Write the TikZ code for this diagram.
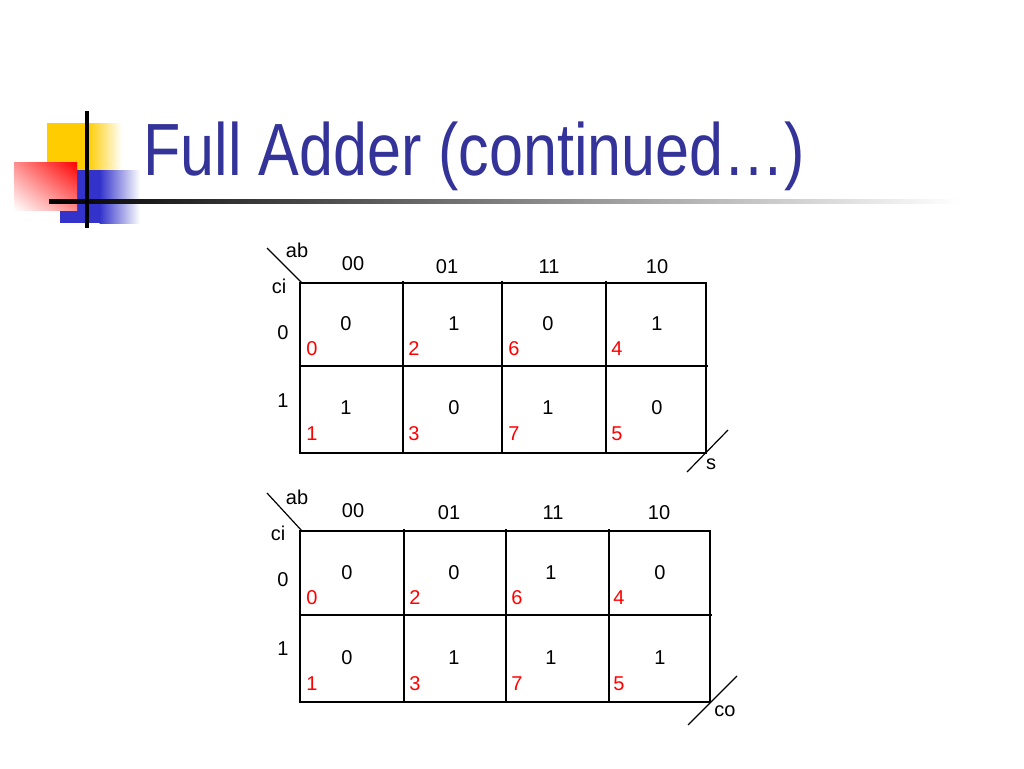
\documentclass[tikz,border=0pt]{standalone}
\usepackage{fontspec}
\setmainfont{Liberation Sans}
\newfontfamily\titlefont[FakeStretch=0.825]{Liberation Sans}
\definecolor{titleblue}{RGB}{51,51,153}
\definecolor{baryellow}{RGB}{255,204,0}
\definecolor{barblue}{RGB}{51,51,204}
\usetikzlibrary{shadings}

\begin{document}
\begin{tikzpicture}[x=1pt,y=-1pt,
    cell/.style={font=\fontsize{20}{24}\selectfont,inner sep=0pt},
    idx/.style={cell,text=red},
    grid line/.style={line width=1.2pt}]
  \useasboundingbox (0,0) rectangle (1024,768);

  % title decoration
  \fill[baryellow] (47,123) rectangle (88,170);
  \shade[left color=baryellow,right color=white] (87.5,123) rectangle (122,170);
  \fill[barblue] (60,170) rectangle (100,223);
  \shade[left color=barblue,right color=white] (99.5,170) rectangle (140,223);
  \shade[upper right=red,lower left=white,upper left=red!45,lower right=red!45] (14,162) rectangle (77,210);
  \shade[left color=black,right color=white] (49,199) rectangle (960,203.5);
  \fill[black] (85,111) rectangle (89,228);
  \node[font=\titlefont\fontsize{74}{80}\selectfont,text=titleblue,anchor=base west,inner sep=0pt]
    (title) at (143,175) {Full Adder (continued…)};

  % k-map for s
  \draw[grid line] (300,283) rectangle (706,453);
  \draw[grid line] (300,366) -- (708,366);
  \foreach \x in {403,502,606}
    \draw[grid line] (\x,281) -- (\x,453);
  \draw[grid line] (267,248) -- (302,283);
  \draw[grid line] (687,472) -- (728,430);
  \node[cell] (s-ab) at (297,250) {ab};
  \node[cell] (s-ci) at (279,286) {ci};
  \node[cell] (s-r0) at (283,333) {0};
  \node[cell] (s-r1) at (283,401) {1};
  \foreach \x/\y/\t [count=\i] in {353/264/00,447/267/01,549/267/11,657/267/10}
    \node[cell] (s-c\i) at (\x,\y) {\t};
  \foreach \vx/\ix/\v/\n in {346/312/0/0,454/414/1/2,548/514/0/6,657/617/1/4} {
    \node[cell] (s-v\n) at (\vx,324) {\v};
    \node[idx] (s-m\n) at (\ix,349) {\n};
  }
  \foreach \vx/\ix/\v/\n in {346/312/1/1,454/414/0/3,548/514/1/7,657/617/0/5} {
    \node[cell] (s-v\n) at (\vx,408) {\v};
    \node[idx] (s-m\n) at (\ix,434) {\n};
  }
  \node[cell] (s-out) at (711,464) {s};

  % k-map for co
  \draw[grid line] (300,531) rectangle (710,702);
  \draw[grid line] (300,615) -- (712,615);
  \foreach \x in {404,506,609}
    \draw[grid line] (\x,529) -- (\x,702);
  \draw[grid line] (267,493) -- (302,531);
  \draw[grid line] (688,725) -- (737,676);
  \node[cell] (co-ab) at (297,497) {ab};
  \node[cell] (co-ci) at (278,533) {ci};
  \node[cell] (co-r0) at (283,580) {0};
  \node[cell] (co-r1) at (283,649) {1};
  \foreach \x/\y/\t [count=\i] in {353/511/00,449/513/01,553/513/11,659/513/10}
    \node[cell] (co-c\i) at (\x,\y) {\t};
  \foreach \vx/\ix/\v/\n in {347/312/0/0,454/415/0/2,551/517/1/6,660/619/0/4} {
    \node[cell] (co-v\n) at (\vx,573) {\v};
    \node[idx] (co-m\n) at (\ix,598) {\n};
  }
  \foreach \vx/\ix/\v/\n in {347/312/0/1,454/415/1/3,551/517/1/7,660/619/1/5} {
    \node[cell] (co-v\n) at (\vx,658) {\v};
    \node[idx] (co-m\n) at (\ix,684) {\n};
  }
  \node[cell] (co-out) at (725,711) {co};
\end{tikzpicture}
\end{document}
